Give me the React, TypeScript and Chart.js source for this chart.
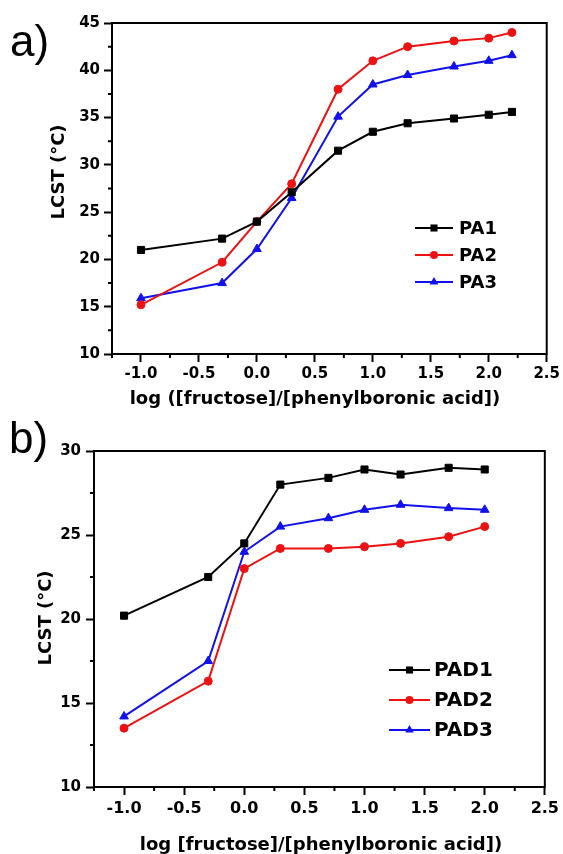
import React, { useEffect, useRef } from 'react';
import { Chart, registerables } from 'chart.js';

Chart.register(...registerables);

// ---------- Panel a data ----------
const xA = [-1.0, -0.3, 0.0, 0.3, 0.7, 1.0, 1.3, 1.7, 2.0, 2.2];
const pa1 = [21.0, 22.2, 24.0, 27.1, 31.5, 33.5, 34.4, 34.9, 35.3, 35.6];
const pa2 = [15.2, 19.7, 24.0, 28.0, 38.0, 41.0, 42.5, 43.1, 43.4, 44.0];
const pa3 = [15.9, 17.5, 21.1, 26.5, 35.1, 38.5, 39.5, 40.4, 41.0, 41.6];
const namesA = ['PA1', 'PA2', 'PA3'];

// ---------- Panel b data ----------
const xB = [-1.0, -0.3, 0.0, 0.3, 0.7, 1.0, 1.3, 1.7, 2.0];
const pad1 = [20.2, 22.5, 24.5, 28.0, 28.4, 28.9, 28.6, 29.0, 28.9];
const pad2 = [13.5, 16.3, 23.0, 24.2, 24.2, 24.3, 24.5, 24.9, 25.5];
const pad3 = [14.2, 17.5, 24.0, 25.5, 26.0, 26.5, 26.8, 26.6, 26.5];
const namesB = ['PAD1', 'PAD2', 'PAD3'];

// ---------- axes ----------
const xMinorTicks = [-1.25, -0.75, -0.25, 0.25, 0.75, 1.25, 1.75, 2.25];
const yMinorTicksA = [12.5, 17.5, 22.5, 27.5, 32.5, 37.5, 42.5];
const yMinorTicksB = [12.5, 17.5, 22.5, 27.5];
const xTitleA = 'log ([fructose]/[phenylboronic acid])';
const xTitleB = 'log [fructose]/[phenylboronic acid])';
const yTitle = 'LCST (\u00B0C)';

const FONT = '"DejaVu Sans", sans-serif';
const COLORS = ['#000000', '#ee1111', '#1111ee'];
const STYLES = ['rect', 'circle', 'triangle'];
const RADII = [5, 4, 5];

function drawMarker(ctx: CanvasRenderingContext2D, style: string, x: number, y: number, r: number) {
  ctx.beginPath();
  if (style === 'rect') {
    const s = Math.SQRT1_2 * r;
    ctx.rect(x - s, y - s, 2 * s, 2 * s);
  } else if (style === 'circle') {
    ctx.arc(x, y, r, 0, Math.PI * 2);
  } else {
    ctx.moveTo(x, y - r);
    ctx.lineTo(x + 0.866 * r, y + 0.5 * r);
    ctx.lineTo(x - 0.866 * r, y + 0.5 * r);
    ctx.closePath();
  }
  ctx.fill();
}

const decorPlugin = {
  id: 'decor',
  afterDraw(chart: any, _args: any, o: any) {
    const { ctx, chartArea: ca } = chart;
    const xs = chart.scales.x;
    const ys = chart.scales.y;
    ctx.save();
    // frame
    ctx.strokeStyle = '#000';
    ctx.lineWidth = 2;
    ctx.strokeRect(ca.left, ca.top, ca.right - ca.left, ca.bottom - ca.top);
    // minor ticks
    ctx.lineWidth = 2;
    ctx.beginPath();
    for (const v of o.xMinor) {
      const px = xs.getPixelForValue(v);
      ctx.moveTo(px, ca.bottom);
      ctx.lineTo(px, ca.bottom + o.minorLen);
    }
    for (const v of o.yMinor) {
      const py = ys.getPixelForValue(v);
      ctx.moveTo(ca.left, py);
      ctx.lineTo(ca.left - o.minorLen, py);
    }
    ctx.stroke();
    // axis titles
    ctx.fillStyle = '#000';
    ctx.font = `bold ${o.titleSize}px ${FONT}`;
    ctx.textAlign = 'center';
    ctx.textBaseline = 'alphabetic';
    ctx.fillText(o.xTitle, o.xTitleX, o.xTitleY);
    ctx.save();
    ctx.translate(o.yTitleX, o.yTitleY);
    ctx.rotate(-Math.PI / 2);
    ctx.fillText(o.yTitle, 0, 0);
    ctx.restore();
    // legend
    ctx.font = `bold ${o.legendSize}px ${FONT}`;
    ctx.textAlign = 'left';
    ctx.textBaseline = 'middle';
    chart.data.datasets.forEach((ds: any, i: number) => {
      const y = o.legendY + i * o.legendGap;
      ctx.strokeStyle = ds.borderColor;
      ctx.lineWidth = 2;
      ctx.beginPath();
      ctx.moveTo(o.legendX, y);
      ctx.lineTo(o.legendX + o.legendLine, y);
      ctx.stroke();
      ctx.fillStyle = ds.borderColor;
      drawMarker(ctx, ds.pointStyle, o.legendX + o.legendLine / 2, y, ds.pointRadius);
      ctx.fillStyle = '#000';
      ctx.fillText(ds.label, o.legendX + o.legendLine + o.legendTextGap, y + 1);
    });
    ctx.restore();
  },
};

function makeDatasets(xs: number[], series: number[][], names: string[]) {
  return series.map((s, i) => ({
    label: names[i],
    data: xs.map((x, j) => ({ x, y: s[j] })),
    borderColor: COLORS[i],
    backgroundColor: COLORS[i],
    pointBackgroundColor: COLORS[i],
    pointBorderColor: COLORS[i],
    pointBorderWidth: 1,
    pointStyle: STYLES[i],
    pointRadius: RADII[i],
    borderWidth: 2,
    tension: 0,
    fill: false,
  }));
}

function makeConfig(p: any) {
  return {
    type: 'line',
    data: { datasets: makeDatasets(p.xs, p.series, p.names) },
    plugins: [decorPlugin],
    options: {
      responsive: false,
      animation: false,
      layout: { padding: { left: 0, right: p.padRight, top: p.padTop, bottom: 0 } },
      plugins: {
        legend: { display: false },
        tooltip: { enabled: false },
        decor: p.decor,
      },
      scales: {
        x: {
          type: 'linear',
          min: -1.25,
          max: 2.5,
          afterFit: (s: any) => { s.height = p.xHeight; },
          ticks: {
            stepSize: 0.5,
            includeBounds: false,
            padding: p.xTickPad,
            color: '#000',
            font: { family: FONT, weight: 'bold', size: p.xTickSize },
            callback: (v: number) => Number(v).toFixed(1),
          },
          grid: { drawOnChartArea: false, drawTicks: true, tickLength: 8, tickWidth: 2, tickColor: '#000' },
          border: { display: false },
        },
        y: {
          type: 'linear',
          min: p.yMin,
          max: p.yMax,
          afterFit: (s: any) => { s.width = p.yWidth; },
          ticks: {
            stepSize: 5,
            padding: p.yTickPad,
            color: '#000',
            font: { family: FONT, weight: 'bold', size: 15 },
          },
          grid: { drawOnChartArea: false, drawTicks: true, tickLength: 8, tickWidth: 2, tickColor: '#000' },
          border: { display: false },
        },
      },
    },
  };
}

function Panel({ top, height, params }: { top: number; height: number; params: any }) {
  const ref = useRef<HTMLCanvasElement | null>(null);
  useEffect(() => {
    if (!ref.current) return;
    const chart = new Chart(ref.current, makeConfig(params) as any);
    return () => chart.destroy();
  }, []);
  return (
    <canvas
      ref={ref}
      width={563}
      height={height}
      style={{ position: 'absolute', left: 0, top, width: 563, height, display: 'block' }}
    />
  );
}

const paramsA = {
  xs: xA,
  series: [pa1, pa2, pa3],
  names: namesA,
  yMin: 10,
  yMax: 45,
  padTop: 23,
  padRight: 16,
  yWidth: 112,
  xHeight: 66,
  xTickPad: 3,
  yTickPad: 4,
  xTickSize: 15,
  decor: {
    xMinor: xMinorTicks,
    yMinor: yMinorTicksA,
    minorLen: 4,
    titleSize: 18,
    xTitle: xTitleA,
    xTitleX: 315,
    xTitleY: 404,
    yTitle: yTitle,
    yTitleX: 64,
    yTitleY: 172,
    legendSize: 18,
    legendX: 415,
    legendY: 228,
    legendGap: 27,
    legendLine: 38,
    legendTextGap: 6,
  },
};

const paramsB = {
  xs: xB,
  series: [pad1, pad2, pad3],
  names: namesB,
  yMin: 10,
  yMax: 30,
  padTop: 31,
  padRight: 17,
  yWidth: 94,
  xHeight: 67,
  xTickPad: 4,
  yTickPad: 5,
  xTickSize: 16,
  decor: {
    xMinor: xMinorTicks,
    yMinor: yMinorTicksB,
    minorLen: 4,
    titleSize: 18,
    xTitle: xTitleB,
    xTitleX: 321,
    xTitleY: 430,
    yTitle: yTitle,
    yTitleX: 51,
    yTitleY: 198,
    legendSize: 20,
    legendX: 389,
    legendY: 250,
    legendGap: 30,
    legendLine: 41,
    legendTextGap: 4,
  },
};

const panelLabel: React.CSSProperties = {
  position: 'absolute',
  fontFamily: '"Liberation Sans", Arial, sans-serif',
  fontSize: 44,
  lineHeight: '44px',
  color: '#000',
  margin: 0,
};

export default function App() {
  return (
    <div style={{ position: 'absolute', left: 0, top: 0, width: 563, height: 854, background: '#fff', overflow: 'hidden' }}>
      <Panel top={0} height={420} params={paramsA} />
      <Panel top={420} height={434} params={paramsB} />
      <div style={{ ...panelLabel, left: 10, top: 19 }}>a)</div>
      <div style={{ ...panelLabel, left: 9, top: 416 }}>b)</div>
    </div>
  );
}
